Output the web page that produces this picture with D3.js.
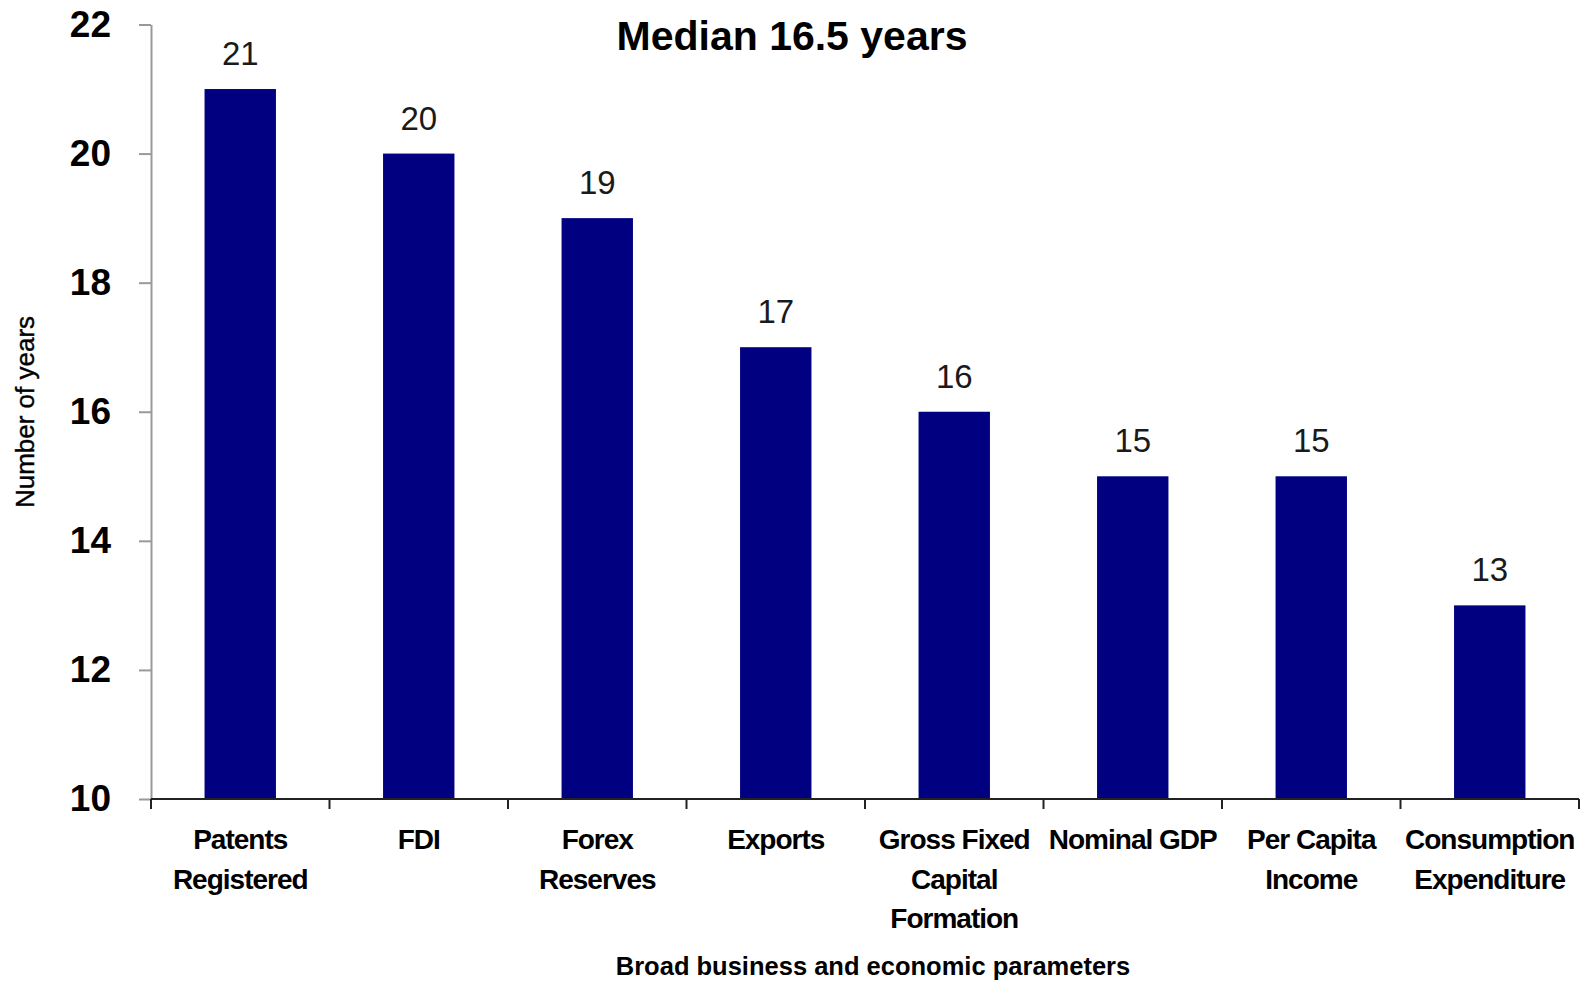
<!DOCTYPE html>
<meta charset="utf-8">
<style>
body { margin: 0; background: #fff; }
svg { display: block; }
</style>
<svg width="1585" height="981"></svg>
<script src="https://d3js.org/d3.v7.min.js"></script>
<script>

// chart values
var categories = [
  ["Patents", "Registered"],
  ["FDI"],
  ["Forex", "Reserves"],
  ["Exports"],
  ["Gross Fixed", "Capital", "Formation"],
  ["Nominal GDP"],
  ["Per Capita", "Income"],
  ["Consumption", "Expenditure"]
];
var years = [21, 20, 19, 17, 16, 15, 15, 13];
var yTicks = [10, 12, 14, 16, 18, 20, 22];
var title = "Median 16.5 years";
var yTitle = "Number of years";
var xTitle = "Broad business and economic parameters";

var svg = d3.select("svg");
var names = categories.map(function(c) { return c.join(" "); });

var x = d3.scaleBand()
    .domain(names)
    .range([151, 1579])
    .paddingInner(0.6)
    .paddingOuter(0.3);

var y = d3.scaleLinear()
    .domain([10, 22])
    .range([799, 24.5]);

// bars
svg.append("g")
  .selectAll("rect")
  .data(years)
  .enter().append("rect")
    .attr("x", function(d, i) { return x(names[i]); })
    .attr("y", function(d) { return y(d); })
    .attr("width", x.bandwidth())
    .attr("height", function(d) { return y(10) - y(d); })
    .attr("fill", "#000080");

// value labels
svg.append("g")
  .selectAll("text")
  .data(years)
  .enter().append("text")
    .attr("x", function(d, i) { return x(names[i]) + x.bandwidth() / 2; })
    .attr("y", function(d) { return y(d) - 24; })
    .attr("text-anchor", "middle")
    .style("font", "33px 'Liberation Sans', Arial, sans-serif")
    .style("fill", "#1a1a1a")
    .text(function(d) { return d; });

// y axis
var yAxis = svg.append("g")
    .attr("transform", "translate(151,0)")
    .call(d3.axisLeft(y).tickValues(yTicks).tickSize(12).tickPadding(28).tickSizeOuter(0));
yAxis.select(".domain").attr("stroke", "#999").attr("stroke-width", 2);
yAxis.selectAll(".tick line").attr("stroke", "#999").attr("stroke-width", 2);
yAxis.selectAll(".tick text")
    .style("font", "bold 37px 'Liberation Sans', Arial, sans-serif")
    .style("fill", "#000");

// x axis line + boundary ticks
var step = x.step();
var bounds = names.map(function(n) { return x(n) - step * x.paddingInner() / 2; });
bounds.push(x.range()[1]);
var xAxis = svg.append("g");
xAxis.append("line")
    .attr("x1", x.range()[0]).attr("x2", x.range()[1])
    .attr("y1", y(10)).attr("y2", y(10))
    .attr("stroke", "#222").attr("stroke-width", 2);
xAxis.selectAll(".bt")
  .data(bounds)
  .enter().append("line")
    .attr("x1", function(d) { return d; }).attr("x2", function(d) { return d; })
    .attr("y1", y(10)).attr("y2", y(10) + 10)
    .attr("stroke", "#222").attr("stroke-width", 2);

// category labels
var lab = svg.append("g")
  .selectAll("text")
  .data(categories)
  .enter().append("text")
    .attr("text-anchor", "middle")
    .attr("transform", function(d, i) { return "translate(" + (x(names[i]) + x.bandwidth() / 2) + ",849)"; })
    .style("font", "bold 28px 'Liberation Sans', Arial, sans-serif")
    .style("letter-spacing", "-1px")
    .style("fill", "#000");
lab.selectAll("tspan")
  .data(function(d) { return d; })
  .enter().append("tspan")
    .attr("x", 0)
    .attr("y", function(d, i) { return i * 39.5; })
    .text(function(d) { return d; });

// title
svg.append("text")
    .attr("x", 792).attr("y", 50)
    .attr("text-anchor", "middle")
    .style("font", "bold 41px 'Liberation Sans', Arial, sans-serif")
    .style("fill", "#000")
    .text(title);

// axis titles
svg.append("text")
    .attr("transform", "translate(34,412) rotate(-90)")
    .attr("text-anchor", "middle")
    .style("font", "26px 'Liberation Sans', Arial, sans-serif")
    .style("fill", "#000")
    .style("stroke", "#000")
    .style("stroke-width", "0.4px")
    .text(yTitle);

svg.append("text")
    .attr("x", 873).attr("y", 975)
    .attr("text-anchor", "middle")
    .style("font", "bold 25.5px 'Liberation Sans', Arial, sans-serif")
    .style("fill", "#000")
    .text(xTitle);

</script>
